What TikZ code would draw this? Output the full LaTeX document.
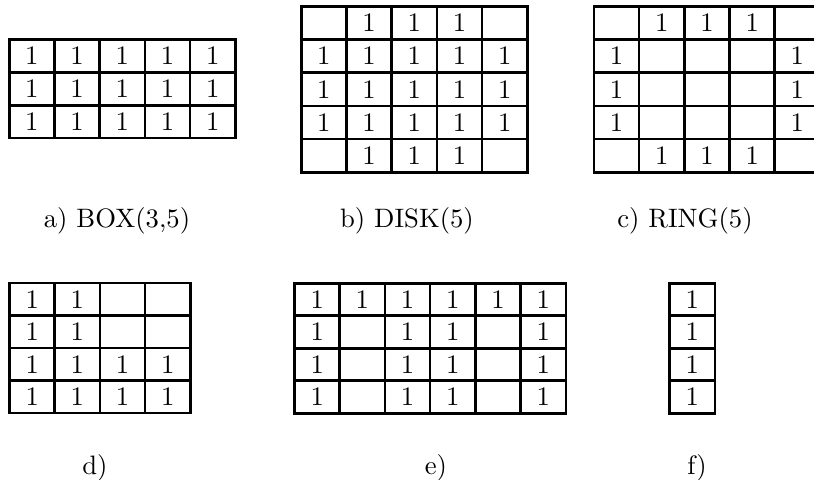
\documentclass[tikz,border=0pt]{standalone}
\begin{document}
\begin{tikzpicture}[x=0.394pt,y=-0.394pt,
  cell/.style={draw, line width=1pt, rectangle, inner sep=0pt,
    minimum width=17.81pt, anchor=north west,
    font=\fontsize{10.5}{12}\selectfont},
  lab/.style={anchor=base, font=\fontsize{10.5}{12}\selectfont}]
\useasboundingbox (0,0) rectangle (814,480);
\clip (0,0) rectangle (814,480);
% a) BOX(3,5)
\foreach \row [count=\r from 0] in {{1,1,1,1,1},{1,1,1,1,1},{1,1,1,1,1}}
  \foreach \v [count=\c from 0] in \row
    \node[cell, minimum height=12.92pt] (a-\r-\c) at ({8+45.2*\c},{38.4+32.8*\r}) {\ifnum\v=1 1\fi};
% b) DISK(5)
\foreach \row [count=\r from 0] in {{0,1,1,1,0},{1,1,1,1,1},{1,1,1,1,1},{1,1,1,1,1},{0,1,1,1,0}}
  \foreach \v [count=\c from 0] in \row
    \node[cell, minimum height=13.08pt] (b-\r-\c) at ({300+45.2*\c},{5+33.2*\r}) {\ifnum\v=1 1\fi};
% c) RING(5)
\foreach \row [count=\r from 0] in {{0,1,1,1,0},{1,0,0,0,1},{1,0,0,0,1},{1,0,0,0,1},{0,1,1,1,0}}
  \foreach \v [count=\c from 0] in \row
    \node[cell, minimum height=13.08pt] (c-\r-\c) at ({592.7+45.2*\c},{5+33.2*\r}) {\ifnum\v=1 1\fi};
% d)
\foreach \row [count=\r from 0] in {{1,1,0,0},{1,1,0,0},{1,1,1,1},{1,1,1,1}}
  \foreach \v [count=\c from 0] in \row
    \node[cell, minimum height=12.8pt] (d-\r-\c) at ({8.3+45.2*\c},{281.8+32.5*\r}) {\ifnum\v=1 1\fi};
% e)
\foreach \row [count=\r from 0] in {{1,1,1,1,1,1},{1,0,1,1,0,1},{1,0,1,1,0,1},{1,0,1,1,0,1}}
  \foreach \v [count=\c from 0] in \row
    \node[cell, minimum height=12.8pt] (e-\r-\c) at ({293.3+45.2*\c},{282+32.5*\r}) {\ifnum\v=1 1\fi};
% f)
\foreach \row [count=\r from 0] in {{1},{1},{1},{1}}
  \foreach \v [count=\c from 0] in \row
    \node[cell, minimum height=12.8pt] (f-\r-\c) at ({668.3+45.2*\c},{282+32.5*\r}) {\ifnum\v=1 1\fi};
% labels
\node[lab] (la) at (117,228) {a) BOX(3,5)};
\node[lab] (lb) at (407,228) {b) DISK(5)};
\node[lab] (lc) at (685,228) {c) RING(5)};
\node[lab] (ld) at (95,475) {d)};
\node[lab] (le) at (436,475) {e)};
\node[lab] (lf) at (697,475) {f)};
\end{tikzpicture}
\end{document}
